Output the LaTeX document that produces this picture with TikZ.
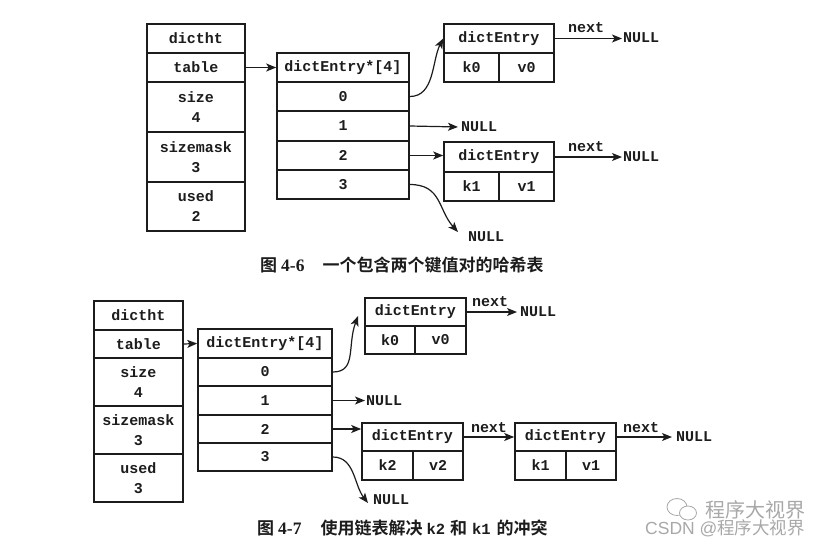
\documentclass[tikz,border=0pt]{standalone}
\usepackage{fontspec}
\setmonofont{Liberation Mono}[BoldFont={Liberation Mono Bold}]
\newfontfamily\capfont{Noto Sans CJK SC Bold}
\newfontfamily\caplatin{Liberation Serif Bold}
\newfontfamily\markfont{Noto Sans CJK SC}
\newfontfamily\marklatin{Liberation Sans}
\usetikzlibrary{arrows.meta}
\definecolor{ink}{HTML}{1C1C1C}
\definecolor{markgrey}{HTML}{A8A8A8}
% a table cell given by its left, top, right and bottom edges
\newcommand\cellbox[6]{%
  \pgfmathsetmacro\cellw{#4-#2}\pgfmathsetmacro\cellh{#5-#3}%
  \pgfmathsetmacro\cellx{(#2+#4)/2}\pgfmathsetmacro\celly{(#3+#5)/2}%
  \node[tablecell,minimum width=\cellw pt,minimum height=\cellh pt] (#1) at (\cellx,\celly) {#6};}
\newcommand\capmono[1]{{\ttfamily\bfseries\fontsize{15.5}{20}\selectfont #1}}
\tikzset{
  tablecell/.style={draw=ink,line width=1.6pt,rectangle,inner sep=0pt,align=center,text=ink,
    font=\ttfamily\bfseries\fontsize{15}{20}\selectfont},
  label text/.style={inner sep=1pt,text=ink,font=\ttfamily\bfseries\fontsize{15}{18}\selectfont},
  link/.style={draw=ink,line width=1.2pt,-{Stealth[length=10pt,width=8pt,inset=2.5pt]}},
  caption text/.style={inner sep=0pt,text=ink,font=\capfont\fontsize{17}{20}\selectfont},
  mark text/.style={inner sep=0pt,text=markgrey},
}
\begin{document}
\begin{tikzpicture}[x=1pt,y=-1pt]
\useasboundingbox (0,0) rectangle (831,547);

% first table: two entries, no collision
\cellbox{ta}{147}{24}{245}{53}{dictht}
\cellbox{tb}{147}{53}{245}{82}{table}
\cellbox{tc}{147}{82}{245}{132}{size\\4}
\cellbox{td}{147}{132}{245}{182}{sizemask\\3}
\cellbox{te}{147}{182}{245}{231}{used\\2}

\cellbox{ah}{277}{53}{409}{82}{dictEntry*[4]}
\cellbox{az}{277}{82}{409}{111}{0}
\cellbox{ao}{277}{111}{409}{141}{1}
\cellbox{aw}{277}{141}{409}{170}{2}
\cellbox{at}{277}{170}{409}{199}{3}

\cellbox{ea}{444}{24}{554}{53}{dictEntry}
\cellbox{eak}{444}{53}{499}{82}{k0}
\cellbox{eav}{499}{53}{554}{82}{v0}
\cellbox{eb}{444}{142}{554}{172}{dictEntry}
\cellbox{ebk}{444}{172}{499}{201}{k1}
\cellbox{ebv}{499}{172}{554}{201}{v1}

\node[label text,anchor=west] (na) at (622,38) {NULL};
\node[label text,anchor=west] (nb) at (622,157) {NULL};
\node[label text,anchor=west] (nc) at (460,127) {NULL};
\node[label text,anchor=west] (nd) at (467,237) {NULL};
\node[label text] (xa) at (586,28) {next};
\node[label text] (xb) at (586,147) {next};
\coordinate (endc) at (458,232);

\draw[link] (tb.east) -- (ah.west);
\draw[link] (az.east) to[out=0,in=243,looseness=0.95] (ea.west);
\draw[link,shorten >=2pt] (ao.east) -- (nc.west);
\draw[link] (aw.east) -- (aw.east -| eb.west);
\draw[link] (at.east) .. controls +(32,0) and +(-20,-22) .. (endc);
\draw[link] (ea.east) -- (ea.east -| na.west);
\draw[link] (eb.east) -- (eb.east -| nb.west);

\node[caption text,anchor=west] (capa) at (260,265)
  {图\hspace{4pt}{\caplatin\fontsize{17.5}{20}\selectfont 4-6}\hspace{18pt}一个包含两个键值对的哈希表};

% second table: k2 and k1 chained in one bucket
\cellbox{pa}{94}{301}{183}{330}{dictht}
\cellbox{pb}{94}{330}{183}{358}{table}
\cellbox{pc}{94}{358}{183}{406}{size\\4}
\cellbox{pd}{94}{406}{183}{454}{sizemask\\3}
\cellbox{pe}{94}{454}{183}{502}{used\\3}

\cellbox{bh}{198}{329}{332}{358}{dictEntry*[4]}
\cellbox{bz}{198}{358}{332}{386}{0}
\cellbox{bo}{198}{386}{332}{415}{1}
\cellbox{bw}{198}{415}{332}{443}{2}
\cellbox{bt}{198}{443}{332}{471}{3}

\cellbox{fa}{365}{298}{466}{326}{dictEntry}
\cellbox{fak}{365}{326}{415}{354}{k0}
\cellbox{fav}{415}{326}{466}{354}{v0}
\cellbox{fb}{362}{423}{463}{451}{dictEntry}
\cellbox{fbk}{362}{451}{413}{480}{k2}
\cellbox{fbv}{413}{451}{463}{480}{v2}
\cellbox{fc}{515}{423}{616}{451}{dictEntry}
\cellbox{fck}{515}{451}{566}{480}{k1}
\cellbox{fcv}{566}{451}{616}{480}{v1}

\node[label text,anchor=west] (ma) at (519,312) {NULL};
\node[label text,anchor=west] (mb) at (365,401) {NULL};
\node[label text,anchor=west] (mc) at (675,437) {NULL};
\node[label text,anchor=west] (md) at (372,500) {NULL};
\node[label text] (ya) at (490,302) {next};
\node[label text] (yb) at (489,428) {next};
\node[label text] (yc) at (641,428) {next};
\coordinate (endz) at (358,316);
\coordinate (endt) at (368,503);

\draw[link] (pb.east) -- (bh.west);
\draw[link] (bz.east) .. controls +(24,0) and +(-11,30) .. (endz);
\draw[link] (bo.east) -- (bo.east -| mb.west);
\draw[link] (bw.east) -- (bw.east -| fb.west);
\draw[link] (bt.east) .. controls +(22,0) and +(-14,-18) .. (endt);
\draw[link,shorten >=2pt] (fa.east) -- (fa.east -| ma.west);
\draw[link] (fb.east) -- (fc.west);
\draw[link,shorten >=3pt] (fc.east) -- (fc.east -| mc.west);

\node[caption text,anchor=west] (capb) at (257,528)
  {图\hspace{4pt}{\caplatin\fontsize{17.5}{20}\selectfont 4-7}\hspace{19pt}使用链表解决\hspace{4pt}\capmono{k2}\hspace{5pt}和\hspace{5pt}\capmono{k1}\hspace{6pt}的冲突};

% publisher's mark in the lower right corner
\draw[markgrey,line width=0.8pt] (677,507) ellipse [x radius=10,y radius=8.5];
\draw[markgrey,line width=0.8pt,fill=white] (688,513) ellipse [x radius=8.5,y radius=7];
\node[mark text,anchor=west,font=\markfont\fontsize{20}{24}\selectfont] (wm) at (705,510) {程序大视界};
\node[mark text,anchor=west,font=\fontsize{17.5}{21}\selectfont] (cs) at (645,528) {\marklatin CSDN @\markfont 程序大视界};
\end{tikzpicture}
\end{document}
